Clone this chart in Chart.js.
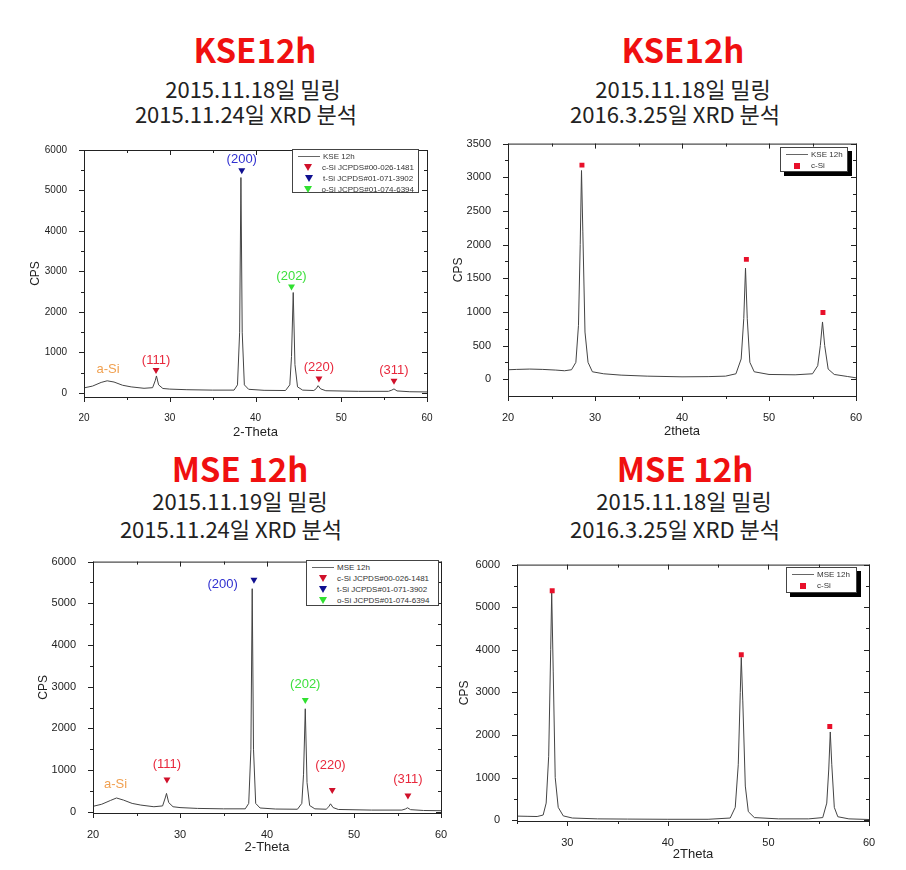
<!DOCTYPE html>
<html>
<head>
<meta charset="utf-8">
<script src="https://cdn.jsdelivr.net/npm/chart.js@4.4.0/dist/chart.umd.min.js"></script>
<style>
  body { margin: 0; width: 906px; height: 870px; background: #fff; position: relative; overflow: hidden; font-family: "Liberation Sans", Arial, sans-serif; }
  .t { position: absolute; width: 400px; text-align: center; font-family: "Noto Sans CJK KR", sans-serif; line-height: 1; white-space: nowrap; }
  .big { color: #f01010; font-weight: bold; font-size: 33px; }
  .sub { color: #222; font-size: 22px; }
  canvas { position: absolute; }
  .leg { position: absolute; background: #fff; border: 1px solid #444; font-size: 8px; color: #333; padding: 1px 4px 2px 4px; box-sizing: border-box; }
  .leg.shadow { box-shadow: 4px 4px 0 #000; }
  .row { height: 11px; line-height: 11px; white-space: nowrap; display: flex; align-items: center; }
  .sw { width: 24px; display: inline-flex; justify-content: center; align-items: center; margin-right: 2px; }
  .ln { width: 22px; height: 1px; background: #666; }
  .tri { width: 0; height: 0; border-left: 4px solid transparent; border-right: 4px solid transparent; border-top: 7px solid; }
  .sq { width: 6px; height: 6px; background: #e8102a; }
</style>
</head>
<body>

<div class="t big" style="left:55px;top:33px">KSE12h</div>
<div class="t sub" style="left:53px;top:77px">2015.11.18일 밀링</div>
<div class="t sub" style="left:46px;top:102px">2015.11.24일 XRD 분석</div>

<div class="t big" style="left:483px;top:33px">KSE12h</div>
<div class="t sub" style="left:483px;top:77px">2015.11.18일 밀링</div>
<div class="t sub" style="left:475px;top:102px">2016.3.25일 XRD 분석</div>

<div class="t big" style="left:40px;top:452px">MSE 12h</div>
<div class="t sub" style="left:40px;top:489px">2015.11.19일 밀링</div>
<div class="t sub" style="left:31px;top:517px">2015.11.24일 XRD 분석</div>

<div class="t big" style="left:485px;top:452px">MSE 12h</div>
<div class="t sub" style="left:484px;top:489px">2015.11.18일 밀링</div>
<div class="t sub" style="left:475px;top:517px">2016.3.25일 XRD 분석</div>

<canvas id="c1" width="430" height="315" style="left:10px;top:135px"></canvas>
<canvas id="c2" width="430" height="322" style="left:440px;top:128px"></canvas>
<canvas id="c3" width="445" height="324" style="left:10px;top:546px"></canvas>
<canvas id="c4" width="450" height="321" style="left:440px;top:549px"></canvas>

<div class="leg" style="left:292px;top:149px;width:127px;height:44px">
  <div class="row"><span class="sw"><span class="ln"></span></span>KSE 12h</div>
  <div class="row"><span class="sw"><span class="tri" style="border-top-color:#d0102a"></span></span>c-Si JCPDS#00-026-1481</div>
  <div class="row"><span class="sw"><span class="tri" style="border-top-color:#101090"></span></span>t-Si JCPDS#01-071-3902</div>
  <div class="row"><span class="sw"><span class="tri" style="border-top-color:#30e030"></span></span>o-Si JCPDS#01-074-6394</div>
</div>
<div class="leg shadow" style="left:780px;top:147px;width:68px;height:25px">
  <div class="row"><span class="sw"><span class="ln"></span></span>KSE 12h</div>
  <div class="row"><span class="sw"><span class="sq"></span></span>c-Si</div>
</div>
<div class="leg" style="left:306px;top:560px;width:133px;height:46px">
  <div class="row"><span class="sw"><span class="ln"></span></span>MSE 12h</div>
  <div class="row"><span class="sw"><span class="tri" style="border-top-color:#d0102a"></span></span>c-Si JCPDS#00-026-1481</div>
  <div class="row"><span class="sw"><span class="tri" style="border-top-color:#101090"></span></span>t-Si JCPDS#01-071-3902</div>
  <div class="row"><span class="sw"><span class="tri" style="border-top-color:#30e030"></span></span>o-Si JCPDS#01-074-6394</div>
</div>
<div class="leg shadow" style="left:786px;top:567px;width:71px;height:26px">
  <div class="row"><span class="sw"><span class="ln"></span></span>MSE 12h</div>
  <div class="row"><span class="sw"><span class="sq"></span></span>c-Si</div>
</div>

<script>
// Ticks
const thetaTicks20 = [20, 30, 40, 50, 60];
const thetaTicks25 = [30, 40, 50, 60];
const cpsTicks6000 = [0, 1000, 2000, 3000, 4000, 5000, 6000];
const cpsTicks3500 = [0, 500, 1000, 1500, 2000, 2500, 3000, 3500];

// KSE 12h, 2015.11.24 분석
const kse1Theta = [20, 21, 22, 22.7, 23.5, 24.5, 25.5, 27, 28, 28.3, 28.45, 28.7, 29.2, 30, 32, 35, 37.5, 37.9, 38.15, 38.3, 38.45, 38.7, 39.2, 41, 43.5, 44.0, 44.2, 44.4, 44.6, 44.9, 45.5, 46.8, 47.1, 47.3, 47.6, 48.2, 52, 55.5, 55.9, 56.15, 56.5, 58, 60];
const kse1Cps   = [125, 170, 260, 300, 270, 190, 150, 115, 130, 300, 420, 200, 110, 95, 80, 70, 70, 200, 1500, 5320, 1500, 200, 90, 65, 60, 200, 900, 2480, 700, 150, 70, 60, 110, 180, 100, 55, 40, 40, 70, 100, 50, 30, 25];
const kse1CSiTheta = [28.4, 47.4, 56.15];
const kse1CSiCps   = [566, 356, 300];
const kse1CSiText  = ['(111)', '(220)', '(311)'];
const kse1CSiTextCps = [800, 622, 558];
const kse1TSiTheta = [38.4];
const kse1TSiCps   = [5500];
const kse1TSiTextTheta = [38.4];
const kse1TSiTextCps = [5773];
const kse1OSiTheta = [44.2];
const kse1OSiCps   = [2628];
const kse1OSiTextCps = [2870];
const kse1ASi = [22.8, 582];

// KSE 12h, 2016.3.25 분석
const kse2Theta = [20, 21, 22.5, 24, 25.5, 26.5, 27.3, 27.8, 28.1, 28.3, 28.45, 28.6, 28.85, 29.2, 29.7, 31, 33, 36, 40, 43, 45, 46.2, 46.8, 47.1, 47.3, 47.5, 47.8, 48.3, 50, 53, 55, 55.6, 55.9, 56.15, 56.4, 56.8, 57.5, 59, 60];
const kse2Cps   = [140, 145, 150, 145, 135, 125, 140, 250, 800, 2000, 3100, 2200, 700, 250, 110, 80, 60, 45, 35, 38, 45, 80, 300, 900, 1650, 900, 250, 110, 70, 65, 80, 200, 500, 850, 500, 150, 70, 40, 20];
const kse2SqTheta = [28.5, 47.4, 56.2];
const kse2SqCps   = [3180, 1780, 990];

// MSE 12h, 2015.11.24 분석
const mse1Theta = [20, 21, 22, 22.7, 23.5, 24.5, 25.5, 27, 28, 28.3, 28.45, 28.7, 29.2, 30, 32, 35, 37.5, 37.9, 38.15, 38.3, 38.45, 38.7, 39.2, 41, 43.5, 44.0, 44.2, 44.4, 44.6, 44.9, 45.5, 46.8, 47.1, 47.3, 47.6, 48.2, 52, 55.5, 55.9, 56.15, 56.5, 58, 60];
const mse1Cps   = [130, 180, 270, 330, 280, 200, 160, 120, 140, 330, 440, 220, 120, 100, 80, 70, 70, 200, 1500, 5350, 1500, 200, 90, 65, 60, 200, 900, 2470, 700, 150, 70, 60, 120, 190, 100, 55, 40, 40, 65, 95, 50, 30, 25];
const mse1CSiTheta = [28.5, 47.5, 56.2];
const mse1CSiCps   = [771, 522, 390];
const mse1CSiText  = ['(111)', '(220)', '(311)'];
const mse1CSiTextTheta = [28.5, 47.3, 56.2];
const mse1CSiTextCps = [1130, 1107, 771];
const mse1TSiTheta = [38.5];
const mse1TSiCps   = [5564];
const mse1TSiTextTheta = [34.9];
const mse1TSiTextCps = [5447];
const mse1OSiTheta = [44.4];
const mse1OSiCps   = [2681];
const mse1OSiTextCps = [3055];
const mse1ASi = [22.6, 655];

// MSE 12h, 2016.3.25 분석
const mse2Theta = [25, 26, 27, 27.6, 27.9, 28.15, 28.35, 28.45, 28.6, 28.8, 29.1, 29.6, 30.5, 33, 36, 40, 44, 46.2, 46.7, 47.0, 47.2, 47.3, 47.45, 47.7, 48.0, 48.6, 51, 54, 55.4, 55.8, 56.0, 56.15, 56.3, 56.55, 56.9, 58, 60];
const mse2Cps   = [95, 90, 85, 120, 400, 1500, 4000, 5350, 3500, 1000, 300, 100, 50, 30, 25, 20, 20, 50, 300, 1300, 3000, 3820, 2800, 800, 200, 60, 30, 30, 60, 400, 1200, 2070, 1300, 300, 80, 30, 15];
const mse2SqTheta = [28.5, 47.3, 56.1];
const mse2SqCps   = [5387, 3885, 2199];

const RED_T = '#d0102a', BLUE_T = '#101090', GREEN_T = '#30e030';
const RED_L = '#e8283c', BLUE_L = '#3030d0', GREEN_L = '#3ee03e', ORANGE_L = '#f0a050';

function pts(xs, ys) {
  return xs.map((x, i) => ({ x: x, y: ys[i] }));
}

// 프레임, 보조 눈금, 피크 라벨
const framePlugin = {
  id: 'frame',
  afterDraw(chart, args, opts) {
    const { ctx, chartArea: a, scales: { x, y } } = chart;
    ctx.save();
    ctx.strokeStyle = '#222';
    ctx.lineWidth = 1;
    ctx.strokeRect(a.left + 0.5, a.top + 0.5, a.right - a.left, a.bottom - a.top);
    ctx.beginPath();
    for (let v = opts.xMin; v <= opts.xMax + 1e-6; v += opts.xMinor) {
      const px = Math.round(x.getPixelForValue(v)) + 0.5;
      const len = Math.abs(v % opts.xMajor) < 1e-6 ? 5 : 3;
      ctx.moveTo(px, a.bottom); ctx.lineTo(px, a.bottom + len);
      ctx.moveTo(px, a.top); ctx.lineTo(px, a.top + len);
    }
    for (let v = opts.yStart; v <= opts.yMax + 1e-6; v += opts.yMinor) {
      const py = Math.round(y.getPixelForValue(v)) + 0.5;
      const len = Math.abs(v % opts.yMajor) < 1e-6 ? 5 : 3;
      ctx.moveTo(a.left, py); ctx.lineTo(a.left - len, py);
      ctx.moveTo(a.right, py); ctx.lineTo(a.right - len, py);
    }
    ctx.stroke();
    (opts.labels || []).forEach(l => {
      ctx.font = (l.size || 13) + 'px "Liberation Sans", Arial, sans-serif';
      ctx.fillStyle = l.color;
      ctx.textAlign = 'center';
      ctx.textBaseline = 'middle';
      ctx.fillText(l.text, x.getPixelForValue(l.x), y.getPixelForValue(l.y));
    });
    ctx.restore();
  }
};

function crearGrafico(id, cfg) {
  const datasets = [{
    data: pts(cfg.theta, cfg.cps),
    showLine: true,
    borderColor: '#444',
    borderWidth: 1,
    pointRadius: 0,
    order: 2
  }];
  cfg.markers.forEach(m => {
    datasets.push({
      data: pts(m.x, m.y),
      pointStyle: m.style,
      rotation: m.style === 'triangle' ? 180 : 0,
      pointRadius: m.style === 'triangle' ? 4 : 3.5,
      backgroundColor: m.color,
      borderColor: m.color,
      borderWidth: 0,
      showLine: false,
      order: 1
    });
  });

  new Chart(document.getElementById(id), {
    type: 'scatter',
    data: { datasets: datasets },
    plugins: [framePlugin],
    options: {
      responsive: false,
      animation: false,
      layout: { padding: { top: cfg.padTop, right: cfg.padRight, left: 0, bottom: 0 } },
      plugins: {
        legend: { display: false },
        tooltip: { enabled: false },
        frame: {
          xMin: cfg.xMin, xMax: cfg.xMax, xMajor: 10, xMinor: 5,
          yStart: 0, yMax: cfg.yMax, yMajor: cfg.yStep, yMinor: cfg.yStep / 2,
          labels: cfg.labels
        }
      },
      scales: {
        x: {
          type: 'linear',
          min: cfg.xMin, max: cfg.xMax,
          grid: { display: false },
          border: { display: false },
          ticks: { color: '#222', font: { size: cfg.tickSize, family: 'Liberation Sans' }, padding: 7, callback: v => String(v) },
          afterBuildTicks: s => { s.ticks = cfg.xTicks.map(v => ({ value: v })); },
          afterFit: s => { s.height = cfg.xHeight; },
          title: { display: true, text: cfg.xTitle, color: '#222', font: { size: 13, family: 'Liberation Sans' }, padding: { top: 0, bottom: cfg.xTitlePad } }
        },
        y: {
          min: cfg.yMin, max: cfg.yMax,
          grid: { display: false },
          border: { display: false },
          ticks: { color: '#222', font: { size: cfg.tickSize, family: 'Liberation Sans' }, padding: 9, callback: v => String(v) },
          afterBuildTicks: s => { s.ticks = cfg.yTicks.map(v => ({ value: v })); },
          afterFit: s => { s.width = cfg.yWidth; },
          title: { display: true, text: 'CPS', color: '#222', font: { size: 12, family: 'Liberation Sans' }, padding: { top: cfg.yTitlePad, bottom: 0 } }
        }
      }
    }
  });
}

function etiquetas(theta, cps, texts, color) {
  return texts.map((t, i) => ({ text: t, x: theta[i], y: cps[i], color: color }));
}

document.addEventListener('DOMContentLoaded', () => {
  crearGrafico('c1', {
    theta: kse1Theta, cps: kse1Cps,
    xMin: 20, xMax: 60, yMin: -100, yMax: 6000, yStep: 1000,
    xTicks: thetaTicks20, yTicks: cpsTicks6000,
    padTop: 10, padRight: 13, yWidth: 74, xHeight: 53, tickSize: 10,
    xTitle: '2-Theta', xTitlePad: 10, yTitlePad: 18,
    markers: [
      { x: kse1CSiTheta, y: kse1CSiCps, color: RED_T, style: 'triangle' },
      { x: kse1TSiTheta, y: kse1TSiCps, color: BLUE_T, style: 'triangle' },
      { x: kse1OSiTheta, y: kse1OSiCps, color: GREEN_T, style: 'triangle' }
    ],
    labels: [
      ...etiquetas(kse1CSiTheta, kse1CSiTextCps, kse1CSiText, RED_L),
      ...etiquetas(kse1TSiTextTheta, kse1TSiTextCps, ['(200)'], BLUE_L),
      ...etiquetas(kse1OSiTheta, kse1OSiTextCps, ['(202)'], GREEN_L),
      { text: 'a-Si', x: kse1ASi[0], y: kse1ASi[1], color: ORANGE_L }
    ]
  });

  crearGrafico('c2', {
    theta: kse2Theta, cps: kse2Cps,
    xMin: 20, xMax: 60, yMin: -250, yMax: 3500, yStep: 500,
    xTicks: thetaTicks20, yTicks: cpsTicks3500,
    padTop: 10, padRight: 14, yWidth: 68, xHeight: 54, tickSize: 11,
    xTitle: '2theta', xTitlePad: 11, yTitlePad: 11,
    markers: [
      { x: kse2SqTheta, y: kse2SqCps, color: '#e8102a', style: 'rect' }
    ],
    labels: []
  });

  crearGrafico('c3', {
    theta: mse1Theta, cps: mse1Cps,
    xMin: 20, xMax: 60, yMin: -30, yMax: 6000, yStep: 1000,
    xTicks: thetaTicks20, yTicks: cpsTicks6000,
    padTop: 10, padRight: 14, yWidth: 83, xHeight: 57, tickSize: 11,
    xTitle: '2-Theta', xTitlePad: 15, yTitlePad: 26,
    markers: [
      { x: mse1CSiTheta, y: mse1CSiCps, color: RED_T, style: 'triangle' },
      { x: mse1TSiTheta, y: mse1TSiCps, color: BLUE_T, style: 'triangle' },
      { x: mse1OSiTheta, y: mse1OSiCps, color: GREEN_T, style: 'triangle' }
    ],
    labels: [
      ...etiquetas(mse1CSiTextTheta, mse1CSiTextCps, mse1CSiText, RED_L),
      ...etiquetas(mse1TSiTextTheta, mse1TSiTextCps, ['(200)'], BLUE_L),
      ...etiquetas(mse1OSiTheta, mse1OSiTextCps, ['(202)'], GREEN_L),
      { text: 'a-Si', x: mse1ASi[0], y: mse1ASi[1], color: ORANGE_L }
    ]
  });

  crearGrafico('c4', {
    theta: mse2Theta, cps: mse2Cps,
    xMin: 25, xMax: 60, yMin: -20, yMax: 6000, yStep: 1000,
    xTicks: thetaTicks25, yTicks: cpsTicks6000,
    padTop: 10, padRight: 21, yWidth: 77, xHeight: 49, tickSize: 11,
    xTitle: '2Theta', xTitlePad: 8, yTitlePad: 17,
    markers: [
      { x: mse2SqTheta, y: mse2SqCps, color: '#e8102a', style: 'rect' }
    ],
    labels: []
  });
});
</script>
</body>
</html>
